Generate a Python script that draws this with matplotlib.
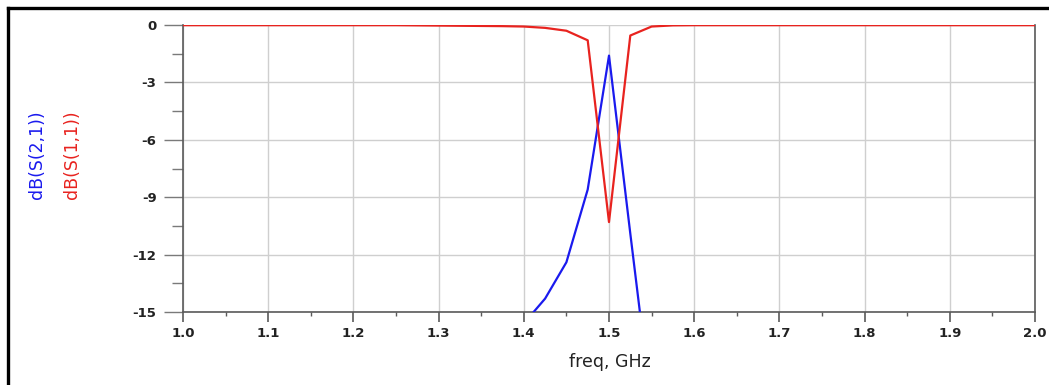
import matplotlib
matplotlib.use("Agg")
import matplotlib.pyplot as plt
from matplotlib.lines import Line2D
from matplotlib.ticker import MultipleLocator

# frequency sweep, GHz (25 MHz step)
freq = [1.000, 1.025, 1.050, 1.075, 1.100, 1.125, 1.150, 1.175, 1.200, 1.225,
        1.250, 1.275, 1.300, 1.325, 1.350, 1.375, 1.400, 1.425, 1.450, 1.475,
        1.500, 1.525, 1.550, 1.575, 1.600, 1.625, 1.650, 1.675, 1.700, 1.725,
        1.750, 1.775, 1.800, 1.825, 1.850, 1.875, 1.900, 1.925, 1.950, 1.975,
        2.000]

# dB(S(1,1)) - reflection
s11 = [-0.01, -0.01, -0.01, -0.01, -0.01, -0.01, -0.01, -0.01, -0.01, -0.01,
       -0.01, -0.02, -0.03, -0.04, -0.05, -0.06, -0.08, -0.15, -0.30, -0.80,
       -10.3, -0.55, -0.08, -0.02, -0.01, -0.01, -0.01, -0.01, -0.01, -0.01,
       -0.01, -0.01, -0.01, -0.01, -0.01, -0.01, -0.01, -0.01, -0.01, -0.01,
       -0.01]

# dB(S(2,1)) - transmission
s21 = [-44.0, -43.0, -42.0, -41.0, -40.0, -39.0, -37.5, -36.0, -34.5, -33.0,
       -31.0, -29.0, -27.0, -24.5, -22.0, -19.0, -15.6, -14.3, -12.4, -8.6,
       -1.6, -10.9, -20.0, -24.5, -27.5, -30.0, -32.0, -33.5, -35.0, -36.0,
       -37.0, -38.0, -39.0, -40.0, -40.5, -41.0, -42.0, -42.5, -43.0, -43.5,
       -44.0]

W, H = 1049, 385
fig = plt.figure(figsize=(W / 100, H / 100), dpi=100)
ax = fig.add_axes([183 / W, 1 - 312 / H, (1035 - 183) / W, (312 - 25) / H])

ax.plot(freq, s21, color="#1a1aee", lw=1.6, zorder=3, clip_on=True)
ax.plot(freq, s11, color="#e8231f", lw=1.6, zorder=4, clip_on=True)

ax.set_xlim(1.0, 2.0)
ax.set_ylim(-15, 0)
ax.xaxis.set_minor_locator(MultipleLocator(0.05))
ax.yaxis.set_minor_locator(MultipleLocator(1.5))
ax.set_xticks(freq[::4])
ax.set_xticklabels(["%.1f" % f for f in freq[::4]])
ax.set_yticks([0, -3, -6, -9, -12, -15])
ax.set_yticklabels(["0", "-3", "-6", "-9", "-12", "-15"])

ax.grid(True, which="major", color="#cfcfcf", lw=1.0)
ax.set_axisbelow(True)

for side in ["left", "bottom", "right"]:
    ax.spines[side].set_color("#5a5a5a")
    ax.spines[side].set_linewidth(1.2)
ax.spines["top"].set_visible(False)

ax.tick_params(axis="x", which="major", direction="out", length=7, width=1.2,
               color="#5a5a5a", pad=4, labelsize=9.5)
ax.tick_params(axis="x", which="minor", direction="out", length=3, width=1.0,
               color="#5a5a5a")
ax.tick_params(axis="y", which="major", direction="out", length=14, width=1.0,
               color="#7a7a7a", pad=5, labelsize=9.5)
ax.tick_params(axis="y", which="minor", direction="out", length=8, width=1.0,
               color="#7a7a7a")
for lbl in ax.get_xticklabels() + ax.get_yticklabels():
    lbl.set_fontweight("bold")
    lbl.set_color("#222222")

fig.text(610 / W, 1 - 362 / H, "freq, GHz", ha="center", va="center",
         fontsize=12.5, family="DejaVu Sans", color="#222222")

fig.text(37 / W, 1 - 155 / H, "dB(S(2,1))", rotation=90, ha="center",
         va="center", fontsize=12.5, family="DejaVu Sans", color="#1a1aee")
fig.text(72 / W, 1 - 155 / H, "dB(S(1,1))", rotation=90, ha="center",
         va="center", fontsize=12.5, family="DejaVu Sans", color="#e8231f")

# outer frame, top and left edges
fig.add_artist(Line2D([8 / W, 1], [1 - 8 / H, 1 - 8 / H], color="black", lw=2.4,
                      transform=fig.transFigure))
fig.add_artist(Line2D([8 / W, 8 / W], [1 - 8 / H, 0], color="black", lw=2.4,
                      transform=fig.transFigure))

fig.savefig("out.png", dpi=100)
